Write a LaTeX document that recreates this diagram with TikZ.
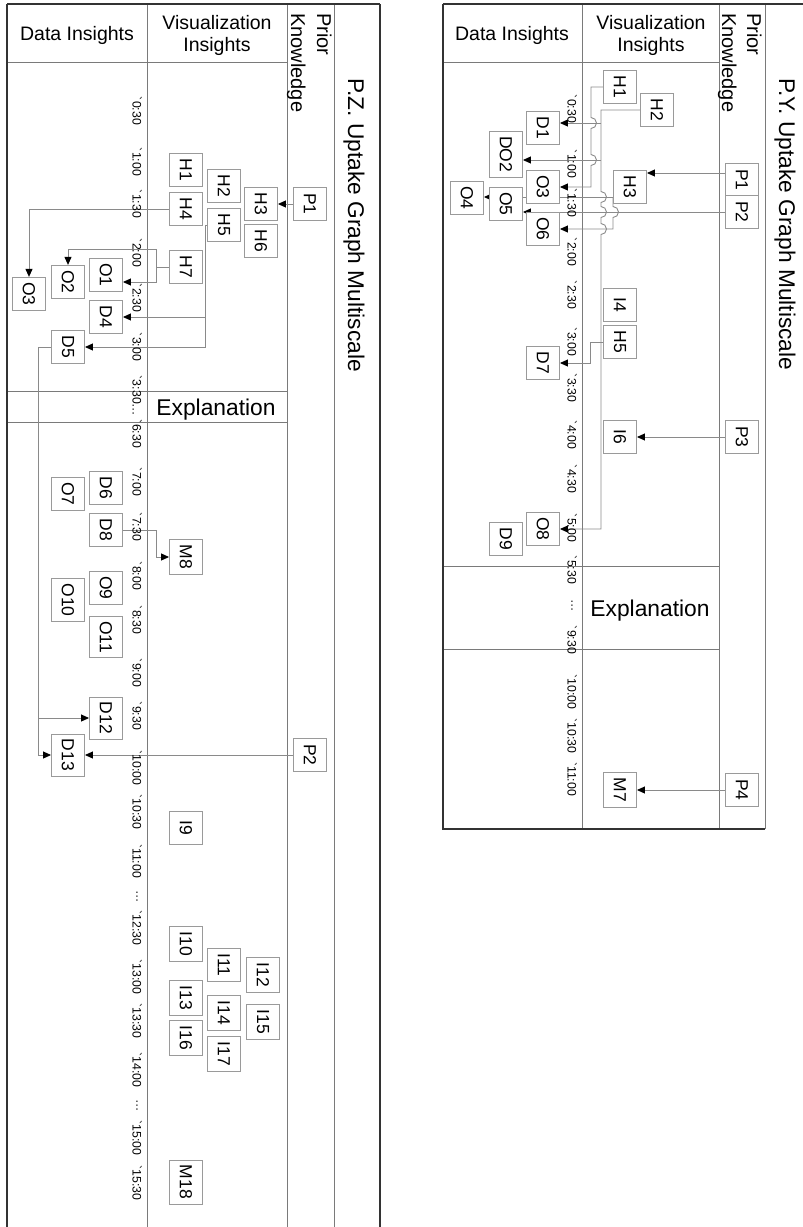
\documentclass[tikz,border=0pt]{standalone}
\usepackage{fontspec}
\setmainfont{Liberation Sans}
\usepackage{graphicx}
\usetikzlibrary{arrows.meta}
\pgfdeclarelayer{bg}
\pgfsetlayers{bg,main}
\definecolor{framec}{HTML}{333333}
\definecolor{gridc}{HTML}{7A7A7A}
\definecolor{boxc}{HTML}{9A9A9A}
\definecolor{connc}{HTML}{8A8A8A}
\newcommand\rtext[1]{\rotatebox{-90}{#1}}
\newcommand\tk{\textasciigrave}
\tikzset{
  box/.style={draw=boxc, line width=0.9pt, fill=white, minimum width=33pt, minimum height=33pt,
    inner xsep=0pt, inner ysep=5pt, font=\fontsize{17.5}{20}\selectfont},
  tlabel/.style={rotate=-90, font=\fontsize{12.3}{14}\selectfont, inner sep=0pt},
  hdr/.style={font=\fontsize{19.5}{23}\selectfont, inner sep=0pt, anchor=base},
  side/.style={rotate=-90, font=\fontsize{20}{24}\selectfont, inner sep=0pt, anchor=base west},
  ttl/.style={rotate=-90, font=\fontsize{22.7}{26}\selectfont, inner sep=0pt, anchor=base west},
  expl/.style={font=\fontsize{22.8}{26}\selectfont, inner sep=0pt, anchor=base},
  conn/.style={draw=connc, line width=0.9pt},
  arr/.style={conn, -{Triangle[length=8pt,width=7pt,color=black,fill=black]}},
  gridline/.style={draw=gridc, line width=0.9pt},
  frameline/.style={draw=framec, line width=1.4pt},
  hop/.style={}
}
\begin{document}
\begin{tikzpicture}[x=1pt,y=-1pt]
\useasboundingbox (0,0) rectangle (803,1227);

% ================= LEFT PANEL (P.Z.) =================
\begin{pgfonlayer}{bg}
\draw[gridline] (147,4) -- (147,1227);
\draw[gridline] (287,4) -- (287,1227);
\draw[gridline] (334,4) -- (334,1227);
\draw[gridline] (7,62) -- (287,62);
\draw[gridline] (7,391) -- (287,391);
\draw[gridline] (7,422) -- (287,422);
\draw[frameline] (7,4) -- (380,4);
\draw[frameline] (7,4) -- (7,1227);
\draw[frameline] (380,4) -- (380,1227);
\end{pgfonlayer}

\node[hdr] (zhd) at (77,40) {Data Insights};
\node[hdr] (zhv1) at (217,29) {Visualization};
\node[hdr] (zhv2) at (217,51) {Insights};
\node[side] (zpk1) at (317,13) {Prior};
\node[side] (zpk2) at (291,13) {Knowledge};
\node[ttl] (zttl) at (348,78) {P.Z. Uptake Graph Multiscale};
\node[expl] (zex) at (216,415) {Explanation};

\foreach \t/\yy [count=\i] in {\tk0:30/111, \tk1:00/162, \tk1:30/204, \tk2:00/253, \tk2:30/298,
  \tk3:00/347, \tk3:30…/396, \tk6:30/434, \tk7:00/482, \tk7:30/527, \tk8:00/576, \tk8:30/620,
  \tk9:00/673, \tk9:30/716, \tk10:00/768, \tk10:30/812, \tk11:00/861, …/897, \tk12:30/928,
  \tk13:00/977, \tk13:30/1021, \tk14:00/1070, …/1106, \tk15:00/1138, \tk15:30/1183}
  \node[tlabel] (zt\i) at (137,\yy) {\t};

\node[box] (zH1) at (186,170) {\rtext{H1}};
\node[box] (zH2) at (224,186) {\rtext{H2}};
\node[box] (zH3) at (261,204) {\rtext{H3}};
\node[box] (zP1) at (310,204) {\rtext{P1}};
\node[box] (zH4) at (186,209) {\rtext{H4}};
\node[box] (zH5) at (224,225) {\rtext{H5}};
\node[box] (zH6) at (261,241) {\rtext{H6}};
\node[box] (zH7) at (186,267) {\rtext{H7}};
\node[box] (zO1) at (106,275) {\rtext{O1}};
\node[box] (zO2) at (68,282) {\rtext{O2}};
\node[box] (zO3) at (29,294) {\rtext{O3}};
\node[box] (zD4) at (106,317) {\rtext{D4}};
\node[box] (zD5) at (68,347) {\rtext{D5}};
\node[box] (zD6) at (106,488) {\rtext{D6}};
\node[box] (zO7) at (68,494) {\rtext{O7}};
\node[box] (zD8) at (106,530) {\rtext{D8}};
\node[box] (zM8) at (186,557) {\rtext{M8}};
\node[box] (zO9) at (106,588) {\rtext{O9}};
\node[box] (zO10) at (68,600) {\rtext{O10}};
\node[box] (zO11) at (106,637) {\rtext{O11}};
\node[box] (zD12) at (106,718) {\rtext{D12}};
\node[box] (zD13) at (68,755) {\rtext{D13}};
\node[box] (zP2) at (310,755) {\rtext{P2}};
\node[box] (zI9) at (186,828) {\rtext{I9}};
\node[box] (zI10) at (186,944) {\rtext{I10}};
\node[box] (zI11) at (224,965) {\rtext{I11}};
\node[box] (zI12) at (263,975) {\rtext{I12}};
\node[box] (zI13) at (186,998) {\rtext{I13}};
\node[box] (zI14) at (224,1013) {\rtext{I14}};
\node[box] (zI15) at (263,1022) {\rtext{I15}};
\node[box] (zI16) at (186,1038) {\rtext{I16}};
\node[box] (zI17) at (224,1054) {\rtext{I17}};
\node[box] (zM18) at (186,1182) {\rtext{M18}};

\begin{pgfonlayer}{bg}
\draw[arr] (zP1.west) -- (zH3.east);
\draw[arr] (zH4.west) -| (zO3.north);
\draw[arr] (zH7.west) -- (156,267) -- (156,249) -| (zO2.north);
\draw[arr] (156,267) -- (156,282) -- (zO1.east |- 0,282);
\draw[arr] (zH5.west) -- (205,225) -- (205,317) -- (zD4.east);
\draw[arr] (205,317) -- (205,347) -- (zD5.east);
\draw[arr] (zD5.west) -- (38,347) -- (38,755) -- (zD13.west);
\draw[arr] (38,718) -- (zD12.west);
\draw[arr] (zD8.east) -- (156,530) -- (156,557) -- (zM8.west);
\draw[arr] (zP2.west) -- (zD13.east);
\end{pgfonlayer}

% ================= RIGHT PANEL (P.Y.) =================
\begin{pgfonlayer}{bg}
\draw[gridline] (582,4) -- (582,829);
\draw[gridline] (719,4) -- (719,829);
\draw[gridline] (765,4) -- (765,829);
\draw[gridline] (443,62) -- (719,62);
\draw[gridline] (443,566) -- (719,566);
\draw[gridline] (443,649) -- (719,649);
\draw[frameline] (443,4) -- (803,4);
\draw[frameline] (443,4) -- (443,829) -- (765,829);
\end{pgfonlayer}

\node[hdr] (yhd) at (512,40) {Data Insights};
\node[hdr] (yhv1) at (651,29) {Visualization};
\node[hdr] (yhv2) at (651,51) {Insights};
\node[side] (ypk1) at (747,13) {Prior};
\node[side] (ypk2) at (722,13) {Knowledge};
\node[ttl] (yttl) at (779,78) {P.Y. Uptake Graph Multiscale};
\node[expl] (yex) at (650,616) {Explanation};

\foreach \t/\yy [count=\i] in {\tk0:30/109, \tk1:00/164, \tk1:30/203, \tk2:00/252, \tk2:30/295,
  \tk3:00/342, \tk3:30/388, \tk4:00/435, \tk4:30/479, \tk5:00/528, \tk5:30/570, …/606,
  \tk9:30/640, \tk10:00/692, \tk10:30/736, \tk11:00/779}
  \node[tlabel] (yt\i) at (572,\yy) {\t};

\node[box] (yH1) at (620,87) {\rtext{H1}};
\node[box] (yH2) at (657,110) {\rtext{H2}};
\node[box] (yD1) at (543,128) {\rtext{D1}};
\node[box] (yDO2) at (506,154) {\rtext{DO2}};
\node[box] (yO3) at (543,187) {\rtext{O3}};
\node[box] (yH3) at (630,187) {\rtext{H3}};
\node[box] (yP1) at (742,180) {\rtext{P1}};
\node[box] (yO4) at (467,198) {\rtext{O4}};
\node[box] (yO5) at (506,204) {\rtext{O5}};
\node[box] (yP2) at (742,212) {\rtext{P2}};
\node[box] (yO6) at (543,229) {\rtext{O6}};
\node[box] (yI4) at (620,305) {\rtext{I4}};
\node[box] (yH5) at (620,342) {\rtext{H5}};
\node[box] (yD7) at (543,363) {\rtext{D7}};
\node[box] (yI6) at (620,437) {\rtext{I6}};
\node[box] (yP3) at (742,437) {\rtext{P3}};
\node[box] (yO8) at (543,529) {\rtext{O8}};
\node[box] (yD9) at (506,539) {\rtext{D9}};
\node[box] (yM7) at (620,790) {\rtext{M7}};
\node[box] (yP4) at (742,790) {\rtext{P4}};

\begin{pgfonlayer}{bg}
% H1 -> O3 (hops over the D1 and DO2 lines)
\draw[arr] (yH1.west) -- (591,87) -- (591,117.5)
  arc[start angle=90,end angle=-90,radius=5.5pt] -- (591,154.5)
  arc[start angle=90,end angle=-90,radius=5.5pt] -- (591,187) -- (yO3.east);
% H2 -> D1, DO2, O8
\draw[arr] (yH2.west) -- (601,110) -- (601,191.5)
  arc[start angle=90,end angle=-90,radius=5.5pt] -- (601,206.5)
  arc[start angle=90,end angle=-90,radius=5.5pt] -- (601,223.5)
  arc[start angle=90,end angle=-90,radius=5.5pt] -- (601,529) -- (yO8.east);
\draw[arr] (601,123) -- (yD1.east |- 0,123);
\draw[arr] (601,160) -- (yDO2.east |- 0,160);
% H3 -> O4, O6
\draw[arr] (613,197) -- (yO4.east |- 0,197);
\draw[arr] (613,197) -- (613,206.5)
  arc[start angle=90,end angle=-90,radius=5.5pt] -- (613,229) -- (yO6.east);
% P1 -> H3, P2 -> O5
\draw[arr] ([yshift=7pt]yP1.west) -- (yH3.east |- 0,173);
\draw[arr] (yP2.west) -- (yO5.east |- yP2.west);
% H5 -> D7
\draw[arr] (yH5.west) -- (590,342) -- (590,363) -- (yD7.east);
\draw[arr] (yP3.west) -- (yI6.east);
\draw[arr] (yP4.west) -- (yM7.east);
\end{pgfonlayer}
\end{tikzpicture}
\end{document}
